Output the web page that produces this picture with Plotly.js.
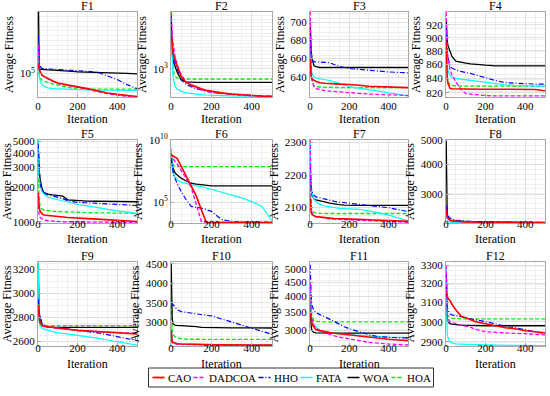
<!DOCTYPE html>
<html>
<head>
<meta charset="utf-8">
<script src="https://cdn.plot.ly/plotly-3.0.1.min.js"></script>
<style>html,body{margin:0;padding:0;background:#fff}#chart{width:550px;height:396px}</style>
</head>
<body>
<div id="chart"></div>
<script>
const iterations = [1,3,6,10,15,20,30,50,75,100,125,150,175,200,250,300,350,400,450,500];
const algorithms = ['CAO','DADCOA','HHO','FATA','WOA','HOA'];
const functionNames = ['F1','F2','F3','F4','F5','F6','F7','F8','F9','F10','F11','F12'];

// series order: CAO, DADCOA, HHO, FATA, WOA, HOA
const F1 = [
 [1.3e5,1.15e5,1.1e5,1.05e5,1.0e5,9.6e4,9.3e4,8.8e4,8.3e4,7.9e4,7.7e4,7.5e4,7.35e4,7.2e4,6.9e4,6.5e4,6.2e4,6.0e4,5.8e4,5.7e4],
 [2.0e5,1.3e5,1.12e5,1.05e5,1.0e5,9.6e4,9.2e4,8.7e4,8.2e4,7.8e4,7.6e4,7.4e4,7.25e4,7.1e4,6.8e4,6.4e4,6.1e4,5.9e4,5.7e4,5.5e4],
 [2.5e5,1.7e5,1.35e5,1.19e5,1.14e5,1.13e5,1.12e5,1.11e5,1.1e5,1.09e5,1.085e5,1.08e5,1.075e5,1.07e5,1.05e5,1.03e5,9.5e4,8.6e4,7.6e4,6.9e4],
 [1.8e5,1.2e5,9.5e4,8.5e4,7.9e4,7.6e4,7.3e4,7.0e4,6.9e4,6.85e4,6.82e4,6.8e4,6.76e4,6.72e4,6.7e4,6.68e4,6.65e4,6.63e4,6.62e4,6.6e4],
 [1e6,1.5e5,1.15e5,1.11e5,1.105e5,1.1e5,1.095e5,1.09e5,1.085e5,1.08e5,1.07e5,1.06e5,1.05e5,1.04e5,1.035e5,1.03e5,1.02e5,1.01e5,1.0e5,9.9e4],
 [1.86e5,1.2e5,9.5e4,8.9e4,8.6e4,8.5e4,8.3e4,8.0e4,7.7e4,7.5e4,7.3e4,7.1e4,6.9e4,6.8e4,6.8e4,6.8e4,6.8e4,6.8e4,6.8e4,6.8e4]
];
const F2 = [
 [3200,2600,2000,1700,1500,1340,1100,780,640,594,550,520,495,479,455,439,428,416,410,407],
 [6300,4000,2900,2300,1800,1490,1150,823,650,575,535,505,480,463,445,430,420,412,405,402],
 [3555,2800,2200,1854,1450,1200,1000,699,600,551,520,500,480,463,445,434,425,418,412,407],
 [3189,2000,1200,779,640,563,520,479,455,444,436,430,425,420,416,413,411,409,408,407],
 [5480,3000,1800,1300,1150,1079,900,699,650,641,641,641,641,641,641,641,641,641,641,641],
 [3000,2000,1300,1000,850,780,740,715,715,715,715,715,715,715,715,715,715,715,715,715]
];
const F3 = [
 [660,645,640,638,637,636.6,635.5,634,633.5,633,632.8,632.6,632.5,632.4,631.5,630.5,630,629.6,629.3,629],
 [712,680,650,637,632,630,628,627,626,625.5,625,624.6,624.3,624,623.2,622.5,622,621.5,621.2,621],
 [680,668,662,658,656.5,656,656,656,655.5,655,653,651,650,649,648,647,646,645.3,644.8,644.4],
 [670,655,648,643.7,641,640,639,638.4,637,636.4,635,633.5,632,630,628.5,627,625.5,623.6,622,620.6],
 [700,680,668,660,655,652,651,650,650,650,650,650,650,650,650,650,650,650,650,650],
 [685,660,645,636.6,633,631,630,629.5,629.3,629.2,629,629,629,629,629,629,629,629,629,629]
];
const F4 = [
 [895,860,840,833,829,826,825.5,825.3,825,824.8,824.8,824.8,824.8,824.8,824.8,824.8,824.8,824.8,824.5,822.6],
 [940,900,880,870,860,853,845,835,825,818.7,818,817,816.8,816,815.5,815.5,815.5,815.5,815.5,815.5],
 [915,895,880,870,862,858,855,852,850,849,847,845,843,840,837,834,833,832.5,832,832],
 [905,880,860,851,846,844,842,840,839,838,837.5,837,836,835,833,831,830,829.3,829,828.6],
 [930,910,895,888,884,880,872,865,863,862,861,860,859.5,859,858,858,858,858,858,858],
 [906,870,845,836,833,831,830,829.5,829.2,829,829,829,829,829,829,829,829,829,829,829]
];
const F5 = [
 [1800,1500,1350,1250,1200,1180,1150,1140,1120,1110,1100,1095,1090,1080,1070,1060,1045,1030,1020,1010],
 [1400,1250,1150,1100,1080,1060,1040,1025,1015,1010,1005,1002,1000,998,996,995,994,993,992,991],
 [4800,3600,2800,2200,2000,1900,1800,1720,1680,1650,1600,1530,1500,1480,1470,1450,1440,1420,1405,1390],
 [5200,3200,2500,2100,1950,1850,1750,1650,1600,1560,1520,1480,1450,1420,1380,1330,1290,1250,1220,1190],
 [4500,3500,2800,2400,2100,1950,1800,1750,1720,1700,1680,1560,1545,1530,1520,1515,1510,1505,1500,1500],
 [2700,1900,1550,1400,1330,1300,1270,1250,1240,1230,1225,1220,1215,1210,1205,1200,1198,1195,1192,1190]
];
const F6 = [
 [6.3e8,6.0e8,5.8e8,5.5e8,4.5e8,4e8,3.4e8,7.9e7,1.3e7,2.5e6,3.2e5,2.5e4,2.3e3,2.3e3,2.3e3,2.3e3,2.3e3,2.3e3,2.3e3,2.3e3],
 [8.5e8,6.3e8,4e8,3.2e8,2.5e8,1.8e8,1.26e8,4e7,7.9e6,1.6e6,7.9e4,2.8e3,2.5e3,2.5e3,2.5e3,2.5e3,2.5e3,2.5e3,2.5e3,2.5e3],
 [3.4e8,1.6e8,6.3e7,2.9e7,1.26e7,7.9e6,3.3e6,7.2e5,1.55e5,4.5e4,4e4,3.3e4,2.5e4,1.8e4,4e3,2.8e3,2.6e3,2.5e3,2.4e3,2.3e3],
 [2.1e9,3.2e8,6.3e7,2.1e7,1.26e7,1e7,6.2e6,4e6,3.2e6,2.5e6,2e6,1.8e6,1.4e6,9.8e5,6.3e5,3.9e5,2.2e5,1.1e5,4.5e4,3.2e3],
 [8.5e8,2.5e8,1e8,5.4e7,3.2e7,2.2e7,1.6e7,8.5e6,5e6,3.3e6,2.8e6,2.5e6,2.1e6,2.0e6,2.0e6,2.0e6,2.0e6,2.0e6,2.0e6,2.0e6],
 [1.15e9,4e8,1.6e8,1e8,7.9e7,7.2e7,7.2e7,7.2e7,7.2e7,7.2e7,7.2e7,7.2e7,7.2e7,7.2e7,7.2e7,7.2e7,7.2e7,7.2e7,7.2e7,7.2e7]
];
const F7 = [
 [2130,2095,2085,2080,2077,2075,2073,2071,2069,2068,2067,2066,2065.5,2065,2064,2063,2062,2061,2059,2058],
 [2310,2150,2105,2085,2078,2075,2072,2070,2068,2066,2065,2064,2063,2062,2061,2060,2059,2058,2056,2055],
 [2230,2190,2165,2150,2142,2138,2133,2130,2126,2122,2119,2117,2115,2113,2110,2107,2103,2100,2094,2088],
 [2300,2190,2160,2145,2135,2128,2118,2110,2105,2102,2100,2098,2097,2096,2095,2090,2085,2078,2068,2060],
 [2210,2175,2155,2140,2132,2127,2124,2122,2118,2114,2111,2109,2108,2107,2107,2107,2107,2107,2107,2107],
 [2160,2120,2100,2092,2087,2085,2083,2082,2082,2082,2082,2082,2082,2082,2082,2082,2082,2082,2082,2082]
];
const F8 = [
 [2600,2480,2420,2400,2370,2350,2340,2330,2322,2315,2312,2310,2308,2306,2304,2302,2301,2300,2300,2300],
 [2500,2430,2400,2380,2360,2345,2330,2320,2314,2310,2308,2306,2305,2304,2302,2301,2300,2300,2300,2300],
 [2700,2580,2500,2450,2420,2400,2380,2350,2340,2330,2325,2320,2316,2312,2308,2305,2304,2303,2302,2302],
 [2550,2400,2350,2320,2312,2308,2305,2303,2302,2300,2300,2300,2300,2299,2299,2299,2298,2298,2298,2298],
 [5000,2800,2500,2400,2370,2350,2335,2320,2315,2310,2308,2306,2305,2305,2303,2302,2301,2300,2300,2300],
 [2650,2500,2440,2400,2375,2360,2350,2340,2330,2320,2315,2312,2310,2310,2308,2306,2305,2305,2305,2305]
];
const F9 = [
 [2900,2830,2790,2760,2745,2730,2725,2720,2715,2710,2705,2700,2695,2690,2685,2680,2675,2670,2665,2660],
 [2880,2820,2780,2750,2740,2730,2722,2716,2712,2708,2703,2698,2694,2690,2685,2680,2676,2672,2668,2665],
 [2950,2880,2840,2820,2790,2750,2735,2720,2715,2710,2706,2702,2698,2690,2680,2670,2655,2640,2625,2605],
 [3260,2900,2760,2730,2720,2710,2700,2690,2680,2670,2665,2660,2655,2650,2640,2625,2610,2595,2582,2568],
 [3250,2950,2850,2780,2750,2740,2725,2718,2716,2715,2715,2715,2715,2715,2715,2715,2715,2715,2715,2715],
 [2950,2820,2770,2745,2735,2732,2730,2730,2730,2730,2730,2730,2730,2730,2730,2730,2730,2730,2730,2730]
];
const F10 = [
 [2800,2520,2480,2470,2460,2450,2440,2430,2425,2420,2418,2415,2413,2412,2410,2410,2408,2406,2404,2402],
 [2700,2500,2460,2450,2440,2430,2425,2420,2415,2410,2405,2402,2400,2398,2397,2396,2395,2395,2395,2395],
 [3500,3470,3460,3450,3420,3380,3320,3270,3250,3230,3200,3175,3170,3160,3080,2980,2910,2830,2760,2680],
 [3000,2550,2500,2480,2470,2460,2450,2440,2435,2430,2428,2425,2422,2420,2418,2416,2414,2412,2410,2410],
 [4500,3600,3100,2950,2930,2920,2915,2910,2905,2900,2880,2860,2855,2853,2850,2850,2848,2847,2846,2845],
 [3600,2900,2750,2680,2640,2620,2600,2570,2555,2552,2552,2552,2552,2552,2552,2552,2552,2552,2552,2552]
];
const F11 = [
 [3500,3400,3300,3200,3120,3080,3030,3000,2970,2950,2935,2920,2910,2900,2870,2830,2810,2790,2775,2760],
 [4500,3800,3500,3300,3200,3150,3070,3000,2950,2900,2870,2840,2820,2800,2760,2720,2700,2680,2670,2660],
 [5200,4500,4000,3700,3600,3550,3500,3430,3370,3300,3230,3150,3100,3050,2970,2900,2850,2830,2825,2820],
 [4500,3800,3500,3300,3200,3150,3100,3000,2970,2950,2930,2920,2910,2900,2885,2870,2855,2840,2835,2830],
 [4000,3400,3100,3000,2970,2955,2945,2940,2940,2940,2940,2940,2940,2940,2940,2940,2940,2940,2940,2940],
 [4300,3800,3500,3400,3300,3260,3240,3230,3230,3230,3230,3230,3230,3230,3230,3230,3230,3230,3230,3230]
];
const F12 = [
 [3150,3140,3130,3120,3115,3110,3090,3060,3030,3020,3010,3000,2995,2990,2980,2970,2965,2955,2950,2945],
 [3300,3100,3050,3020,3005,3000,2995,2990,2985,2980,2972,2962,2955,2950,2947,2945,2942,2940,2937,2935],
 [3250,3100,3080,3060,3050,3040,3035,3030,3025,3020,3015,3010,3005,3000,2990,2975,2970,2960,2950,2940],
 [3300,3000,2940,2920,2910,2900,2895,2890,2889,2888,2887,2886,2885,2885,2884,2883,2883,2882,2882,2882],
 [3300,3100,3020,3000,2995,2990,2988,2985,2983,2982,2981,2980,2980,2980,2980,2980,2980,2980,2980,2980],
 [3100,3050,3035,3030,3025,3020,3018,3016,3015,3015,3015,3015,3015,3015,3015,3015,3015,3015,3015,3015]
];
const seriesByFunction = [F1,F2,F3,F4,F5,F6,F7,F8,F9,F10,F11,F12];

// y tick labels
const yTicks = [
 [1e5],[1e3],[640,660,680,700],[820,840,860,880,900,920],
 [1000,2000,3000,4000,5000],[1e5,1e10],[2100,2200,2300],[3000,4000,5000],
 [2600,2800,3000,3200],[3000,3500,4000,4500],[3000,3500,4000,4500,5000],[2900,3000,3100,3200,3300]
];
const yTickText = [
 ['10<sup>5</sup>'],['10<sup>3</sup>'],['640','660','680','700'],['820','840','860','880','900','920'],
 ['1000','2000','3000','4000','5000'],['10<sup>5</sup>','10<sup>10</sup>'],['2100','2200','2300'],['3000','4000','5000'],
 ['2600','2800','3000','3200'],['3000','3500','4000','4500'],['3000','3500','4000','4500','5000'],['2900','3000','3100','3200','3300']
];
const xTicks = [0,200,400];

// axis settings
const yTypes = ['log','log','log','log','log','log','linear','log','linear','linear','log','log'];
const yRanges = [
 [56234,446684],[398,6310],[619.5,711.5],[814,940],[980,5164],[2090,1e10],
 [2053,2307],[2290,5030],[2560,3260],[2380,4550],[2638,5325],[2880,3318]
];
const yMinorLog = [0.05,0.05,0.0033,0.0042,0.05,0.5,null,0.02,null,null,0.02,0.0033];
const yMinorLin = [null,null,null,null,null,null,25,null,50,125,null,null];

const colors = ['#ff0000','#ff00ff','#0000ff','#00ffff','#000000','#00ee00'];
const dashes = ['solid','4px,2px','5px,2px,1px,2px','solid','solid','4px,2px'];
const widths = [1.6,1.3,1.2,1.2,1.3,1.3];

const colPx = [[38,137],[171,272],[310,408],[446,545]];
const rowPx = [[12,97],[140,223],[262,346]];
const W = 550, H = 396;
const FONT = '"Liberation Serif", "Times New Roman", Tinos, serif';
const tickShift = [-1,-9,-8];
const xTitleY = [119, 239, 364];

const data = [];
const layout = {
  width: W, height: H, autosize: false,
  margin: {l:0,r:0,t:0,b:0},
  paper_bgcolor: '#fff', plot_bgcolor: '#fff',
  font: {family: FONT, size: 11, color: '#000'},
  showlegend: false,
  annotations: [], shapes: []
};

functionNames.forEach((name, i) => {
  const r = Math.floor(i/4), c = i%4;
  const sfx = i === 0 ? '' : String(i+1);
  const xd = [colPx[c][0]/W, colPx[c][1]/W];
  const yd = [1-rowPx[r][1]/H, 1-rowPx[r][0]/H];
  const isLog = yTypes[i] === 'log';
  const axisCommon = {
    showline: true, mirror: true, linecolor: '#a8a8a8', linewidth: 1,
    showgrid: true, gridcolor: '#e0e0e0', gridwidth: 1,
    zeroline: false, ticks: 'inside', ticklen: 3, tickcolor: '#a8a8a8',
    tickfont: {family: FONT, size: 11, color: '#000'}
  };
  layout['xaxis'+sfx] = Object.assign({}, axisCommon, {
    domain: xd, anchor: 'y'+sfx, range: [0,500], tickmode:'array', tickvals: xTicks,
    ticktext: xTicks.map(String), ticklabelstandoff: tickShift[r],
    minor: {dtick: 50, tick0: 0, showgrid: true, gridcolor: '#efefef', ticks:''}
  });
  const yr = isLog ? yRanges[i].map(v => Math.log10(v)) : yRanges[i];
  const minor = isLog ? {dtick: yMinorLog[i], tick0: 0, showgrid: true, gridcolor: '#efefef', ticks:''}
                      : {dtick: yMinorLin[i], showgrid: true, gridcolor: '#efefef', ticks:''};
  layout['yaxis'+sfx] = Object.assign({}, axisCommon, {
    domain: yd, anchor: 'x'+sfx, type: yTypes[i], range: yr,
    tickmode: 'array', tickvals: yTicks[i], ticktext: yTickText[i],
    minor: minor,
    title: {text: 'Average Fitness', font: {family: FONT, size: 12, color:'#000'}, standoff: 3}
  });
  // subplot title
  layout.annotations.push({
    text: name, xref: 'paper', yref: 'paper', x: (xd[0]+xd[1])/2, y: 1-(rowPx[r][0]-6)/H,
    xanchor: 'center', yanchor: 'middle', showarrow: false, borderpad: 0,
    font: {family: FONT, size: 12, color: '#000'}
  });
  // x-axis title
  layout.annotations.push({
    text: 'Iteration', xref: 'paper', yref: 'paper', x: (xd[0]+xd[1])/2, y: 1-xTitleY[r]/H,
    xanchor: 'center', yanchor: 'middle', showarrow: false, borderpad: 0,
    font: {family: FONT, size: 12, color: '#000'}
  });
  const order = [5,4,3,2,1,0];
  order.forEach(k => {
    data.push({
      type: 'scatter', mode: 'lines', name: algorithms[k],
      x: iterations, y: seriesByFunction[i][k],
      xaxis: 'x'+sfx, yaxis: 'y'+sfx,
      line: {color: colors[k], dash: dashes[k], width: widths[k]},
      showlegend: false, hoverinfo: 'skip'
    });
  });
});

// Legend (one row, boxed, below the grid)
(function buildLegend(){
  const legendTextWidth = [23, 47, 24, 29, 26, 24];
  const lineLen = 12, gapLT = 2, gapItem = 4;
  const total = legendTextWidth.reduce((s,w)=>s+w,0) + algorithms.length*(lineLen+gapLT) + (algorithms.length-1)*gapItem;
  const cx = 291, yTop = 368, yBot = 387, yMid = (yTop+yBot)/2;
  const pad = 4;
  let x = cx - total/2;
  layout.shapes.push({type:'rect', xref:'paper', yref:'paper',
    x0:(x-pad)/W, x1:(x+total+pad)/W, y0:1-yBot/H, y1:1-yTop/H,
    line:{color:'#333', width:1}, fillcolor:'#fff', layer:'above'});
  algorithms.forEach((a,k) => {
    layout.shapes.push({type:'line', xref:'paper', yref:'paper',
      x0:x/W, x1:(x+lineLen)/W, y0:1-yMid/H, y1:1-yMid/H,
      line:{color:colors[k], width:widths[k]+0.2, dash:dashes[k]}, layer:'above'});
    layout.annotations.push({text:a, xref:'paper', yref:'paper', x:(x+lineLen+gapLT)/W, y:1-yMid/H,
      xanchor:'left', yanchor:'middle', showarrow:false, borderpad:0,
      font:{family:FONT, size:11, color:'#000'}});
    x += lineLen + gapLT + legendTextWidth[k] + gapItem;
  });
})();

Plotly.newPlot('chart', data, layout, {staticPlot: true, displayModeBar: false});
</script>
</body>
</html>
